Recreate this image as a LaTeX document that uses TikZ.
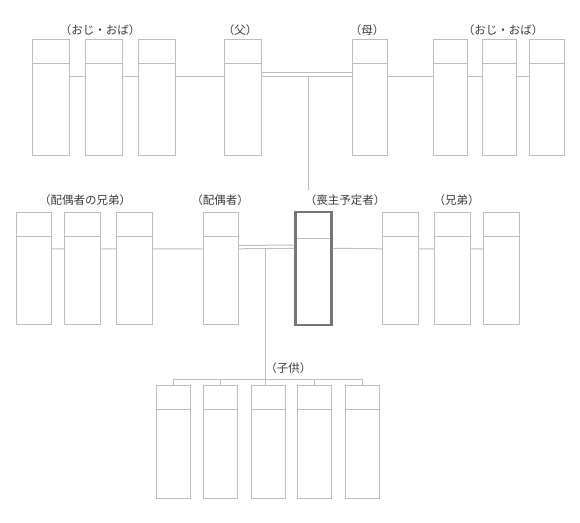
\documentclass[tikz,border=0pt]{standalone}
\usepackage{fontspec}
\setmainfont{Noto Sans CJK JP}
\definecolor{ln}{HTML}{BEBEBE}
\definecolor{dk}{HTML}{767676}
\definecolor{tx}{HTML}{3C3C3C}
\begin{document}
\begin{tikzpicture}[x=1pt,y=-1pt,
  person/.style={draw=ln, line width=1pt, anchor=north west, inner sep=0pt,
    minimum width=#1, path picture={\draw[ln, line width=1pt]
      ([yshift=-24pt]path picture bounding box.north west) --
      ([yshift=-24pt]path picture bounding box.north east);}},
  person/.default=36pt,
  top/.style={minimum height=116pt},
  mid/.style={minimum height=112pt},
  kid/.style={minimum height=113pt},
  chiefbox/.style={draw=dk, line width=2.2pt, anchor=north west, inner sep=0pt,
    minimum width=36pt, minimum height=113pt, path picture={\draw[ln, line width=1pt]
      ([yshift=-26pt]path picture bounding box.north west) --
      ([yshift=-26pt]path picture bounding box.north east);}},
  lbl/.style={text=tx, font=\fontsize{11.5pt}{13pt}\selectfont, inner sep=0pt},
  conn/.style={draw=ln, line width=1pt}]
\useasboundingbox (0,0) rectangle (580,522);
% top row
\node[person=37pt, top] (a1) at (32.3,39) {};
\node[person=37pt, top] (a2) at (85,39) {};
\node[person=37pt, top] (a3) at (137.7,39) {};
\node[person=37pt, top] (fa) at (224.3,39) {};
\node[person=35pt, top] (mo) at (351.7,39) {};
\node[person=34pt, top] (b1) at (433.3,39) {};
\node[person=34pt, top] (b2) at (482.3,39) {};
\node[person=35pt, top] (b3) at (529.3,39) {};
% middle row
\node[person=35pt, mid] (s1) at (15.7,212.3) {};
\node[person=36pt, mid] (s2) at (64.3,212.3) {};
\node[person=36pt, mid] (s3) at (116,212.3) {};
\node[person=35pt, mid] (sp) at (202.7,212.3) {};
\node[chiefbox] (me) at (294.3,211) {};
\node[person=36pt, mid] (r1) at (382.3,212.3) {};
\node[person=36pt, mid] (r2) at (434,212.3) {};
\node[person=36pt, mid] (r3) at (483.3,212.3) {};
% children
\node[person=34pt, kid] (c1) at (155.7,385) {};
\node[person=34pt, kid] (c2) at (203,385) {};
\node[person=34pt, kid] (c3) at (251,385) {};
\node[person=34pt, kid] (c4) at (297.3,385) {};
\node[person=34pt, kid] (c5) at (345.3,385) {};
% labels
\node[lbl] (l1) at (100,30) {（おじ・おば）};
\node[lbl] (l2) at (240,30) {（父）};
\node[lbl] (l3) at (367,30) {（母）};
\node[lbl] (l4) at (503,30) {（おじ・おば）};
\node[lbl] (l5) at (85,200) {（配偶者の兄弟）};
\node[lbl] (l6) at (220,200) {（配偶者）};
\node[lbl] (l7) at (345,200) {（喪主予定者）};
\node[lbl] (l8) at (456.7,200) {（兄弟）};
\node[lbl] (l9) at (288.3,368) {（子供）};
% top connectors
\path[conn] ([yshift=21.3pt]a1.east) -- ([yshift=21.3pt]a2.west)
  ([yshift=21.3pt]a2.east) -- ([yshift=21.3pt]a3.west)
  ([yshift=21.3pt]a3.east) -- ([yshift=21.3pt]fa.west)
  ([yshift=21.3pt]mo.east) -- ([yshift=21.3pt]b1.west)
  ([yshift=21.3pt]b1.east) -- ([yshift=21.3pt]b2.west)
  ([yshift=21.3pt]b2.east) -- ([yshift=21.3pt]b3.west)
  ([yshift=21.3pt]fa.east) -- ([yshift=21.3pt]mo.west)
  ([yshift=24.6pt]fa.east) -- ([yshift=24.6pt]mo.west);
\coordinate (pj) at (308,75.7);
\coordinate (pe) at (308,190);
\path[conn] (pj) -- (pe);
% middle connectors
\path[conn] ([yshift=20pt]s1.east) -- ([yshift=20pt]s2.west)
  ([yshift=20pt]s2.east) -- ([yshift=20pt]s3.west)
  ([yshift=20pt]s3.east) -- ([yshift=20pt]sp.west)
  ([yshift=20pt]r1.east) -- ([yshift=20pt]r2.west)
  ([yshift=20pt]r2.east) -- ([yshift=20pt]r3.west)
  ([yshift=23.3pt]sp.east) -- (me.west |- 0,245)
  ([yshift=20pt]sp.east) -- (me.west |- 0,248.3)
  (me.east |- 0,248.3) -- ([yshift=20pt]r1.west);
\coordinate (sj) at (265.7,248.3);
\coordinate (kb) at (265.7,379);
\path[conn] (sj) -- (c3.north -| sj);
% children bus
\path[conn] (c1.north |- kb) -- (c5.north |- kb)
  (c1.north |- kb) -- (c1.north)
  (c2.north |- kb) -- (c2.north)
  (c4.north |- kb) -- (c4.north)
  (c5.north |- kb) -- (c5.north);
\end{tikzpicture}
\end{document}
